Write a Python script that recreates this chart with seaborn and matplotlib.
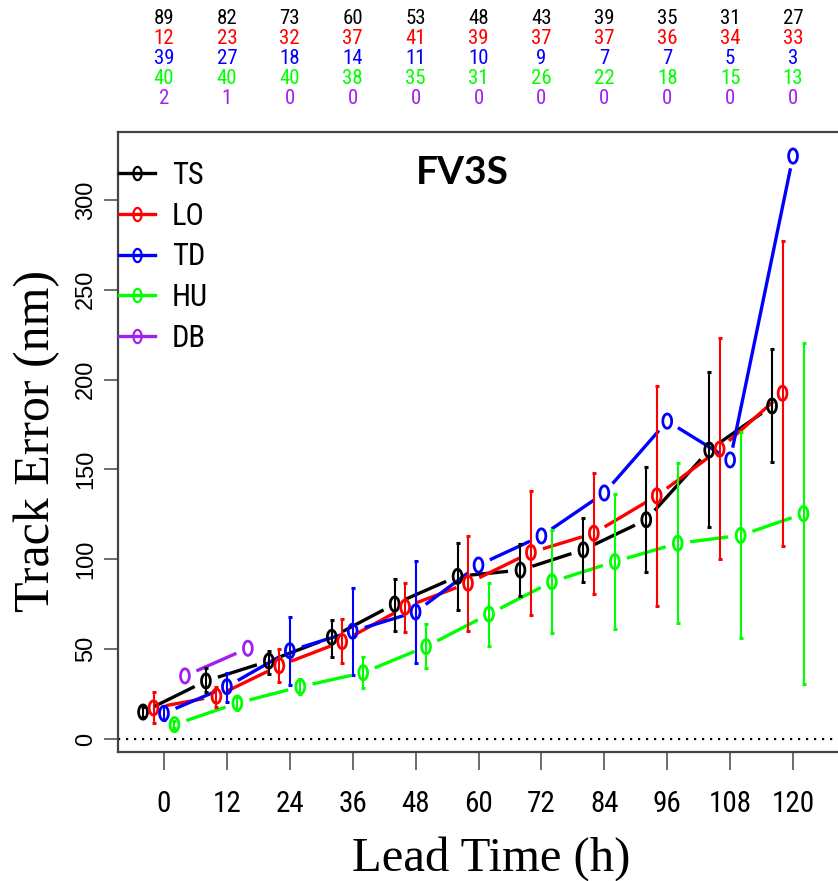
import numpy as np
import pandas as pd
import matplotlib
matplotlib.use("Agg")
import matplotlib.pyplot as plt
import seaborn as sns
from matplotlib.path import Path
from matplotlib.markers import MarkerStyle
from matplotlib.lines import Line2D
from matplotlib.transforms import blended_transform_factory
from matplotlib import font_manager as fm

# ---------------- data ----------------
lead_times = [0, 12, 24, 36, 48, 60, 72, 84, 96, 108, 120]
categories = ["TS", "LO", "TD", "HU", "DB"]

ts_err = [15.0, 32.3, 43.4, 56.6, 75.1, 90.5, 94.0, 105.3, 122.0, 160.8, 185.3]
ts_lo = [12.0, 26.3, 36.2, 45.6, 60.3, 71.8, 79.8, 87.2, 92.7, 118.2, 154.3]
ts_hi = [18.0, 39.3, 49.1, 66.4, 89.0, 108.9, 108.5, 123.2, 151.2, 204.1, 216.8]

lo_err = [17.3, 23.8, 40.8, 54.2, 73.4, 86.7, 103.8, 114.5, 135.3, 161.3, 192.4]
lo_lo = [8.7, 17.6, 31.5, 42.1, 59.4, 60.1, 69.0, 80.7, 74.0, 100.0, 107.4]
lo_hi = [26.3, 29.1, 50.1, 67.0, 87.0, 113.0, 138.2, 147.9, 196.6, 223.0, 277.3]

nan = np.nan
td_err = [14.3, 29.1, 49.1, 60.0, 70.7, 96.8, 113.0, 136.9, 176.9, 155.3, 324.4]
td_lo = [10.5, 20.8, 30.0, 35.6, 42.5, nan, nan, nan, nan, nan, nan]
td_hi = [18.5, 36.6, 67.7, 83.9, 99.1, nan, nan, nan, nan, nan, nan]

hu_err = [8.0, 20.0, 29.1, 36.9, 51.4, 69.5, 87.5, 98.7, 108.9, 113.3, 125.4]
hu_lo = [6.3, 16.1, 25.0, 28.2, 39.3, 51.9, 58.8, 61.0, 64.4, 56.0, 30.4]
hu_hi = [9.8, 23.5, 33.5, 45.5, 64.0, 86.6, 116.3, 136.3, 153.4, 170.6, 220.2]

db_err = [35.1, 50.5, nan, nan, nan, nan, nan, nan, nan, nan, nan]
db_lo = [nan] * 11
db_hi = [nan] * 11

ts_n = [89, 82, 73, 60, 53, 48, 43, 39, 35, 31, 27]
lo_n = [12, 23, 32, 37, 41, 39, 37, 37, 36, 34, 33]
td_n = [39, 27, 18, 14, 11, 10, 9, 7, 7, 5, 3]
hu_n = [40, 40, 40, 38, 35, 31, 26, 22, 18, 15, 13]
db_n = [2, 1, 0, 0, 0, 0, 0, 0, 0, 0, 0]

title = "FV3S"
x_label = "Lead Time (h)"
y_label = "Track Error (nm)"
y_ticks = [0, 50, 100, 150, 200, 250, 300]

# ---------------- styling ----------------
series = {
    "TS": (ts_err, ts_lo, ts_hi, ts_n),
    "LO": (lo_err, lo_lo, lo_hi, lo_n),
    "TD": (td_err, td_lo, td_hi, td_n),
    "HU": (hu_err, hu_lo, hu_hi, hu_n),
    "DB": (db_err, db_lo, db_hi, db_n),
}
colors = {"TS": "#000000", "LO": "#FF0000", "TD": "#0000FF",
          "HU": "#00FF00", "DB": "#A020F0"}
offsets = {"TS": -4, "LO": -2, "TD": 0, "HU": 2, "DB": 4}

ttf = fm.fontManager.ttflist
names = {f.name for f in ttf}


def plain(f):
    w = f.weight if isinstance(f.weight, int) else 400
    return f.style == "normal" and 350 <= w <= 450


def narrow_props():
    for nm in ("Liberation Sans Narrow", "Arial Narrow", "Roboto Condensed",
               "Open Sans Condensed"):
        for f in ttf:
            if f.name == nm and plain(f):
                return fm.FontProperties(fname=f.fname)
    for f in ttf:
        if f.name == "DejaVu Sans" and f.stretch == "condensed" and plain(f):
            return fm.FontProperties(fname=f.fname)
    for f in ttf:
        if ("Condensed" in f.name or "Narrow" in f.name) and plain(f):
            return fm.FontProperties(fname=f.fname)
    return fm.FontProperties(family="Liberation Sans")


NARROW = narrow_props()


def narrow(size):
    p = NARROW.copy()
    p.set_size(size)
    return p


sans_font = "Liberation Sans" if "Liberation Sans" in names else "DejaVu Sans"
serif_font = "Liberation Serif" if "Liberation Serif" in names else "DejaVu Serif"
bold_font = "Lato" if "Lato" in names else "DejaVu Sans"

rows = []
for cat in categories:
    e, l, h, n = series[cat]
    for i, t in enumerate(lead_times):
        rows.append(dict(cat=cat, lead=t, x=t + offsets[cat], err=e[i], lo=l[i], hi=h[i]))
df = pd.DataFrame(rows)

# elliptical open marker (taller than wide)
theta = np.linspace(0, 2 * np.pi, 60)
ell_path = Path(np.column_stack([0.62 * np.cos(theta), np.sin(theta)]), closed=True)
ell = MarkerStyle(ell_path)

W, H = 838, 881
fig = plt.figure(figsize=(W / 100, H / 100), dpi=100)
ax_l, ax_r, ax_t, ax_b = 118, 846, 132, 752
ax = fig.add_axes([ax_l / W, (H - ax_b) / H, (ax_r - ax_l) / W, (ax_b - ax_t) / H])

# error bars
for cat in categories:
    d = df[df.cat == cat].dropna(subset=["lo", "hi"])
    if len(d):
        ax.errorbar(d.x, d.err, yerr=[d.err - d.lo, d.hi - d.err], fmt="none",
                    ecolor=colors[cat], elinewidth=1.5, capsize=1.6, capthick=2.2,
                    zorder=3)

# markers via seaborn
dm = df.dropna(subset=["err"])
sns.scatterplot(data=dm, x="x", y="err", hue="cat", palette=colors, marker=ell,
                s=105, linewidth=2.0, legend=False, ax=ax, zorder=4)
coll = ax.collections[-1]
fcs = coll.get_facecolors()
coll.set_edgecolors(fcs)
coll.set_facecolors("none")

ax.axhline(0, color="black", lw=1.6, ls=(0, (1, 2.6)), zorder=1)

x_min = -(164 - ax_l) / 5.242
x_max = (ax_r - 164) / 5.242
y_min = -(ax_b - 739) / 1.797
y_max = (739 - ax_t) / 1.797
ax.set_xlim(x_min, x_max)
ax.set_ylim(y_min, y_max)

# connecting lines with gaps around points (R type="b")
gap = 12.5
inv = ax.transData.inverted()
for cat in categories:
    d = df[df.cat == cat]
    pts = ax.transData.transform(np.column_stack([d.x.values, d.err.values]))
    for i in range(len(pts) - 1):
        p0, p1 = pts[i], pts[i + 1]
        if np.isnan(p0).any() or np.isnan(p1).any():
            continue
        v = p1 - p0
        L = np.hypot(*v)
        if L <= 2 * gap:
            continue
        u = v / L
        seg = inv.transform(np.array([p0 + u * gap, p1 - u * gap]))
        ax.plot(seg[:, 0], seg[:, 1], color=colors[cat], lw=2.4,
                solid_capstyle="butt", zorder=2)

# axes styling
for s in ax.spines.values():
    s.set_color("#444444")
    s.set_linewidth(1.6)
ax.set_xticks(lead_times)
ax.set_xticklabels([str(t) for t in lead_times], fontproperties=narrow(21))
ax.set_yticks(y_ticks)
ax.set_yticklabels([str(v) for v in y_ticks], fontfamily=sans_font, fontsize=17,
                   rotation=90, va="center")
ax.tick_params(axis="x", length=13, width=1.1, color="#444444", pad=14)
ax.tick_params(axis="y", length=10, width=1.1, color="#444444", pad=5)

ax.set_xlabel(x_label, fontfamily=serif_font, fontsize=35)
ax.set_ylabel(y_label, fontfamily=serif_font, fontsize=36)
ax.xaxis.label.set_verticalalignment("center")
ax.xaxis.set_label_coords((491.5 - ax_l) / (ax_r - ax_l), (ax_b - 858.5) / (ax_b - ax_t))
ax.yaxis.label.set_verticalalignment("center")
ax.yaxis.label.set_horizontalalignment("center")
ax.yaxis.set_label_coords((37 - ax_l) / (ax_r - ax_l), (ax_b - 441) / (ax_b - ax_t))

ax.text((462 - ax_l) / (ax_r - ax_l), (ax_b - 173) / (ax_b - ax_t), title,
        transform=ax.transAxes, ha="center", va="center", fontfamily=bold_font,
        fontweight="bold", fontsize=28)

# sample counts above the plot
tr = blended_transform_factory(ax.transData, fig.transFigure)
row_y = [18, 38, 58, 79, 99]
for cat, yy in zip(categories, row_y):
    for t, n in zip(lead_times, series[cat][3]):
        ax.text(t, 1 - yy / H, str(n), transform=tr, ha="center", va="center",
                color=colors[cat], fontproperties=narrow(15), clip_on=False)

# legend
handles = [Line2D([0], [0], color=colors[c], lw=2.4, marker=ell, ms=9.5,
                  mfc="none", mew=1.6) for c in categories]
ax.legend(handles, categories, loc="upper left", bbox_to_anchor=(0.001, 0.953),
          frameon=False, prop=narrow(22),
          handlelength=1.18, handletextpad=0.55, labelspacing=0.38,
          borderpad=0, borderaxespad=0)

fig.savefig("out.png", dpi=100)
